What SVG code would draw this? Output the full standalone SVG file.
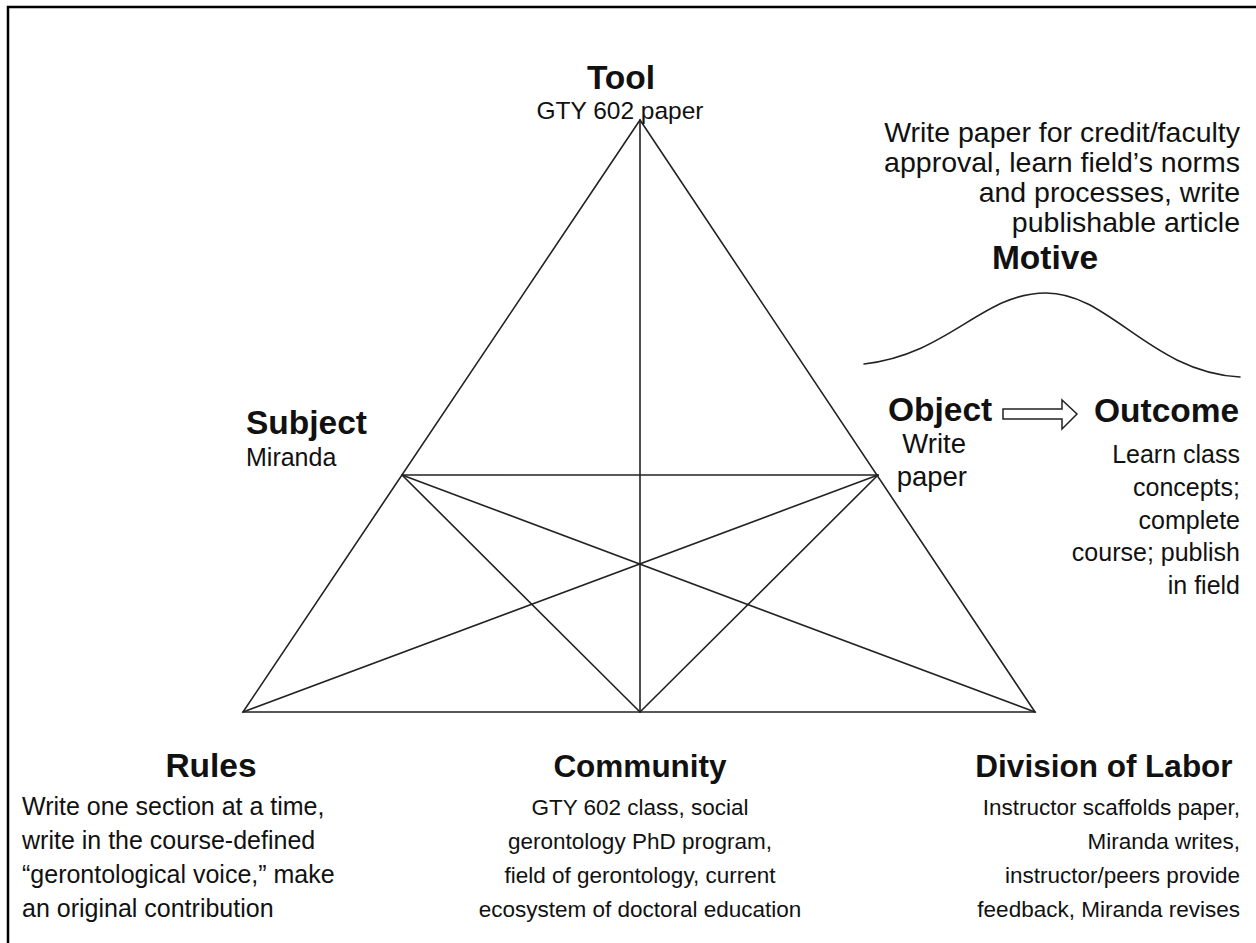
<svg xmlns="http://www.w3.org/2000/svg" width="1256" height="943" viewBox="0 0 1256 943">
  <style>
    text { font-family: "Liberation Sans", Arial, sans-serif; fill: #111; }
    .h { font-size: 33.5px; font-weight: bold; }
    .hs { font-size: 31.5px; font-weight: bold; }
    .b { font-size: 25px; }
    .s { font-size: 22.5px; }
    .m { font-size: 28.5px; }
    .o { font-size: 27.5px; }
    .mid { text-anchor: middle; }
    .end { text-anchor: end; }
    .ln { stroke: #222; stroke-width: 1.6; fill: none; stroke-linecap: round; }
  </style>
  <rect width="1256" height="943" fill="#fff"/>
  <rect x="8" y="7" width="1300" height="1000" fill="none" stroke="#000" stroke-width="2.5"/>

  <!-- activity system triangle and its internal relations -->
  <g id="connectors">
    <polygon class="ln" points="640,120 243,712 1035,712"/>
    <line class="ln" x1="640" y1="120" x2="640" y2="712"/>
    <line class="ln" x1="402" y1="475" x2="878" y2="475"/>
    <line class="ln" x1="402" y1="475" x2="640" y2="712"/>
    <line class="ln" x1="402" y1="475" x2="1035" y2="712"/>
    <line class="ln" x1="878" y1="475" x2="640" y2="712"/>
    <line class="ln" x1="878" y1="475" x2="243" y2="712"/>
    <!-- motive curve -->
    <path class="ln" d="M864,364 C950,354 982,293 1046,293 C1110,293 1150,372 1240,377"/>
    <!-- object to outcome block arrow -->
    <path d="M1003,409 H1062 V400 L1077,414 L1062,429 V419 H1003 Z" fill="#fff" stroke="#222" stroke-width="1.5"/>
  </g>

  <g id="tool">
    <text class="h mid" x="621" y="89">Tool</text>
    <text class="mid" x="620" y="119" style="font-size:24.5px">GTY 602 paper</text>
  </g>

  <g id="motive">
    <text class="m end" x="1240" y="142">Write paper for credit/faculty</text>
    <text class="m end" x="1240" y="172">approval, learn field’s norms</text>
    <text class="m end" x="1240" y="202">and processes, write</text>
    <text class="m end" x="1240" y="232">publishable article</text>
    <text class="h mid" x="1045" y="269">Motive</text>
  </g>

  <g id="subject">
    <text class="h" x="246" y="434">Subject</text>
    <text class="b" x="246" y="466">Miranda</text>
  </g>

  <g id="object">
    <text class="h" x="888" y="421">Object</text>
    <text class="o end" x="966" y="453">Write</text>
    <text class="o end" x="967" y="486">paper</text>
  </g>

  <g id="outcome">
    <text class="h" x="1094" y="422">Outcome</text>
    <text class="b end" x="1240" y="463">Learn class</text>
    <text class="b end" x="1240" y="496">concepts;</text>
    <text class="b end" x="1240" y="529">complete</text>
    <text class="b end" x="1240" y="561">course; publish</text>
    <text class="b end" x="1240" y="594">in field</text>
  </g>

  <g id="rules">
    <text class="h mid" x="211" y="777">Rules</text>
    <text class="b" x="22" y="815">Write one section at a time,</text>
    <text class="b" x="22" y="849">write in the course-defined</text>
    <text class="b" x="22" y="883">“gerontological voice,” make</text>
    <text class="b" x="22" y="917">an original contribution</text>
  </g>

  <g id="community">
    <text class="hs mid" x="640" y="777">Community</text>
    <text class="s mid" x="640" y="815">GTY 602 class, social</text>
    <text class="s mid" x="640" y="849">gerontology PhD program,</text>
    <text class="s mid" x="640" y="883">field of gerontology, current</text>
    <text class="s mid" x="640" y="917">ecosystem of doctoral education</text>
  </g>

  <g id="division-of-labor">
    <text class="hs mid" x="1104" y="777">Division of Labor</text>
    <text class="s end" x="1240" y="815">Instructor scaffolds paper,</text>
    <text class="s end" x="1240" y="849">Miranda writes,</text>
    <text class="s end" x="1240" y="883">instructor/peers provide</text>
    <text class="s end" x="1240" y="917">feedback, Miranda revises</text>
  </g>
</svg>
